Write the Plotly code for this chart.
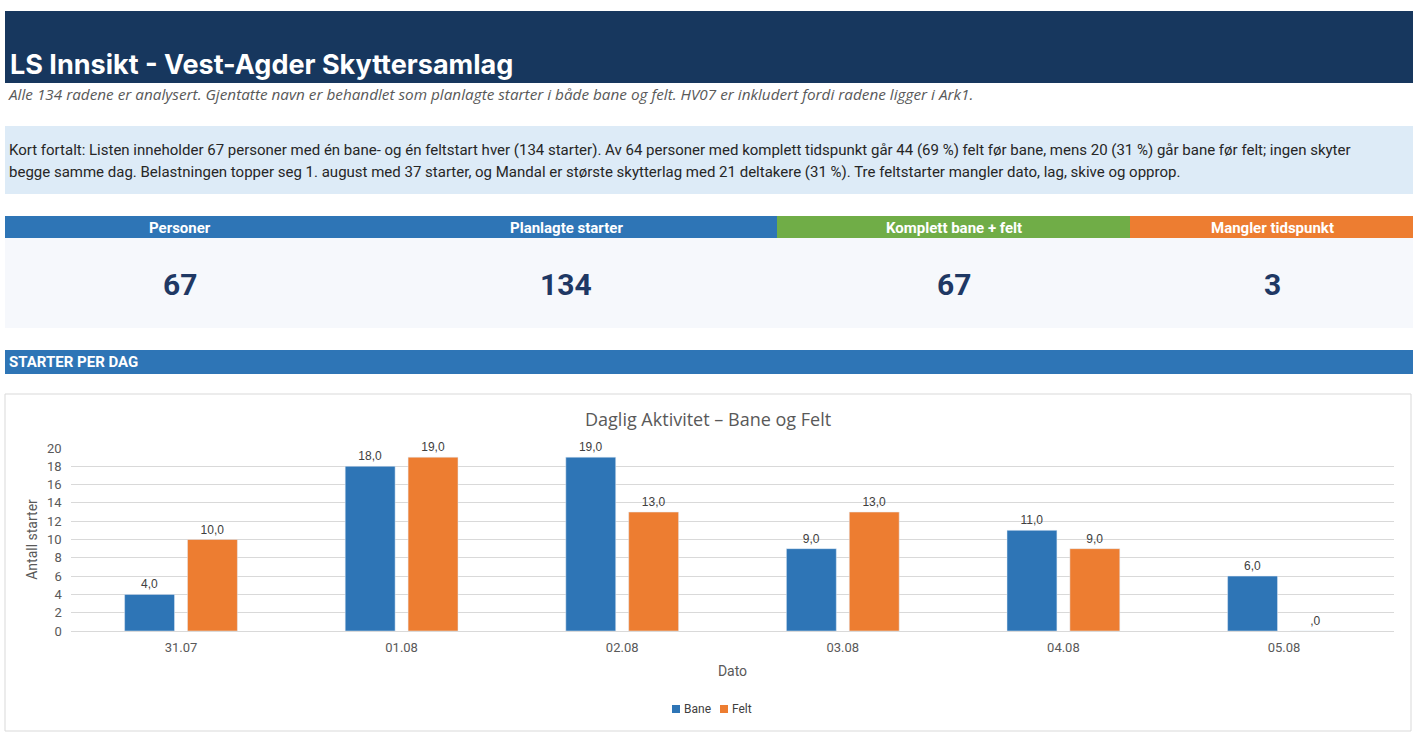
import plotly.graph_objects as go

W, H = 1415, 737

# ---- data ----
dates = ["31.07", "01.08", "02.08", "03.08", "04.08", "05.08"]
bane = [4, 18, 19, 9, 11, 6]
felt = [10, 19, 13, 13, 9, 0]
bane_labels = ["4,0", "18,0", "19,0", "9,0", "11,0", "6,0"]
felt_labels = ["10,0", "19,0", "13,0", "13,0", "9,0", ",0"]
series_names = ["Bane", "Felt"]

kpi_titles = ["Personer", "Planlagte starter", "Komplett bane + felt", "Mangler tidspunkt"]
kpi_values = ["67", "134", "67", "3"]

title_text = "LS Innsikt - Vest-Agder Skyttersamlag"
subtitle_text = ("Alle 134 radene er analysert. Gjentatte navn er behandlet som planlagte starter i både bane og felt. "
                 "HV07 er inkludert fordi radene ligger i Ark1.")
summary_line1 = ("Kort fortalt: Listen inneholder 67 personer med én bane- og én feltstart hver (134 starter). "
                 "Av 64 personer med komplett tidspunkt går 44 (69 %) felt før bane, mens 20 (31 %) går bane før felt; ingen skyter")
summary_line2 = ("begge samme dag. Belastningen topper seg 1. august med 37 starter, og Mandal er største skytterlag "
                 "med 21 deltakere (31 %). Tre feltstarter mangler dato, lag, skive og opprop.")

# ---- helpers (pixel -> paper) ----
def px(x):
    return x / W

def py(y):
    return 1 - y / H

NAVY = "#17375E"
BLUE = "#2E75B6"
GREEN = "#70AD47"
ORANGE = "#ED7D31"
LIGHTBLUE = "#DDEBF7"
NARROW = "Liberation Sans Narrow, Roboto, sans-serif"
series_colors = [BLUE, ORANGE]

fig = go.Figure()

fig.add_trace(go.Bar(
    x=dates, y=bane, name=series_names[0], marker_color=BLUE,
    text=bane_labels, textposition="outside", cliponaxis=False,
    textfont=dict(family="Liberation Sans, Arial", size=12, color="#404040"),
))
fig.add_trace(go.Bar(
    x=dates, y=felt, name=series_names[1], marker_color=ORANGE,
    text=felt_labels, textposition="outside", cliponaxis=False,
    textfont=dict(family="Liberation Sans, Arial", size=12, color="#404040"),
))

shapes = []
ann = []

def rect(x0, y0, x1, y1, fill, line=None, layer="below"):
    shapes.append(dict(type="rect", xref="paper", yref="paper",
                       x0=px(x0), x1=px(x1), y0=py(y1), y1=py(y0),
                       fillcolor=fill,
                       line=dict(width=1 if line else 0, color=line or fill),
                       layer=layer))

def text(x, y, s, size, color, family, xanchor="left", bold=False, italic=False):
    if bold:
        s = "<b>" + s + "</b>"
    if italic:
        s = "<i>" + s + "</i>"
    ann.append(dict(xref="paper", yref="paper", x=px(x), y=py(y), text=s,
                    showarrow=False, xanchor=xanchor, yanchor="middle",
                    font=dict(size=size, color=color, family=family)))

# title bar
rect(5, 11, 1413, 83, NAVY)
text(8, 64, title_text, 27, "white", "Inter, Open Sans, sans-serif", bold=True)
text(6, 94, subtitle_text, 15.3, "#595959", "Open Sans, sans-serif", italic=True)

# summary box
rect(5, 126, 1413, 194, LIGHTBLUE)
text(7, 150, summary_line1, 15, "#262626", "Roboto, sans-serif")
text(7, 172, summary_line2, 15, "#262626", "Roboto, sans-serif")

# KPI header row
rect(5, 216, 777, 238, BLUE)
rect(777, 216, 1130, 238, GREEN)
rect(1130, 216, 1413, 238, ORANGE)
rect(5, 238, 1413, 328, "#F6F8FC")
kpi_centers = [180, 566, 954, 1272]
for cx, t, v in zip(kpi_centers, kpi_titles, kpi_values):
    text(cx, 228, t, 15, "white", NARROW, xanchor="center", bold=True)
    text(cx, 284, v, 30, "#1F3864", NARROW, xanchor="center", bold=True)

# section bar
rect(5, 350, 1413, 374, BLUE)
text(7, 362, "STARTER PER DAG", 15, "white", NARROW, bold=True)

# chart box
rect(5, 394, 1411, 731, "white", line="#D9D9D9")
text(708, 419, "Daglig Aktivitet – Bane og Felt", 18, "#595959", "Open Sans, sans-serif", xanchor="center")

# legend (compact, Excel-like)
legend_x = [672, 720]
for lx, name, col in zip(legend_x, series_names, series_colors):
    rect(lx, 705, lx + 8, 713, col, layer="above")
    text(lx + 10, 709, name, 12, "#404040", NARROW)

fig.update_layout(
    width=W, height=H,
    margin=dict(l=0, r=0, t=0, b=0, autoexpand=False),
    paper_bgcolor="white", plot_bgcolor="rgba(0,0,0,0)",
    shapes=shapes, annotations=ann,
    barmode="group", bargap=0.43, bargroupgap=0.206,
    showlegend=False,
    xaxis=dict(domain=[px(70.7), px(1394.3)], type="category", automargin=False,
               showline=True, linecolor="#D9D9D9", ticks="", ticklabelstandoff=4,
               tickfont=dict(size=13, color="#595959", family=NARROW),
               title=dict(text="Dato", font=dict(size=14, color="#595959", family=NARROW), standoff=12)),
    yaxis=dict(domain=[py(631), py(448)], range=[0, 20], dtick=2, automargin=False,
               showgrid=True, gridcolor="#D9D9D9", zeroline=False,
               tickfont=dict(size=13, color="#595959", family=NARROW),
               ticks="", ticklabelstandoff=8,
               title=dict(text="Antall starter", font=dict(size=14, color="#595959", family=NARROW), standoff=6)),
)

fig.write_html("out.html")
